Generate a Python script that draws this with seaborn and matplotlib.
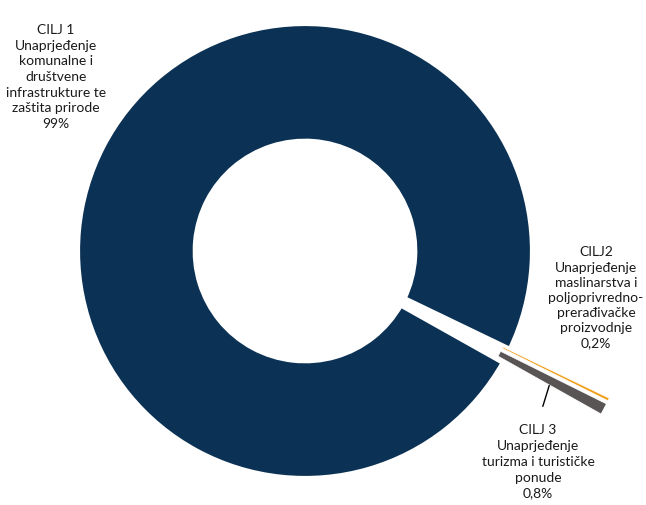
import numpy as np
import matplotlib
matplotlib.use('Agg')
import matplotlib.pyplot as plt
import seaborn as sns

# --- data ---
goals = ['CILJ 1', 'CILJ2', 'CILJ 3']
shares = [99.0, 0.2, 0.8]
label_texts = [
    'CILJ 1\nUnaprjeđenje\nkomunalne i\ndruštvene\ninfrastrukture te\nzaštita prirode\n99%',
    'CILJ2\nUnaprjeđenje\nmaslinarstva i\npoljoprivredno-\nprerađivačke\nproizvodnje\n0,2%',
    'CILJ 3\nUnaprjeđenje\nturizma i turističke\nponude\n0,8%',
]
colors = ['#0b3254', '#f0a01c', '#595555']

sns.set_theme(style='white')
plt.rcParams['font.family'] = ['Lato', 'DejaVu Sans']

# pixel -> data helper (centre of ring at px 305,252, radius 225 px)
CX, CY, RPX = 305, 252, 225.0
def px(x, y):
    return ((x - CX) / RPX, (CY - y) / RPX)

fig = plt.figure(figsize=(6.46, 5.06), dpi=100)
ax = fig.add_axes([0, 0, 1, 1])

wedges, _ = ax.pie(shares, colors=colors, startangle=-29.3, counterclock=False,
                   radius=1.012, explode=[0, 0.49, 0.49],
                   wedgeprops=dict(width=0.525, edgecolor='white', linewidth=0.5))
wedges[0].set_linewidth(4)

x0, y0 = px(0, 506)
x1, y1 = px(646, 0)
ax.set_xlim(x0, x1)
ax.set_ylim(y0, y1)
ax.set_aspect('equal')
ax.axis('off')

fs = 10
tc = '#1a1a1a'
ax.text(*px(56, 77), label_texts[0], ha='center', va='center', fontsize=fs,
        linespacing=1.36, color=tc)
ax.text(*px(596, 298), label_texts[1], ha='center', va='center', fontsize=fs,
        linespacing=1.32, color=tc)
ax.text(*px(538, 462), label_texts[2], ha='center', va='center', fontsize=fs,
        linespacing=1.38, color=tc)

# leader line from the grey wedge to its label
w = wedges[2]
ang = np.deg2rad((w.theta1 + w.theta2) / 2)
cx, cy = w.center
r_mid = w.r - 0.27
tip = (cx + r_mid * np.cos(ang), cy + r_mid * np.sin(ang) - 0.01)
ax.annotate('', xy=tip, xytext=px(542, 410),
            arrowprops=dict(arrowstyle='-', color='black', lw=1))

plt.savefig('out.png', dpi=100)
